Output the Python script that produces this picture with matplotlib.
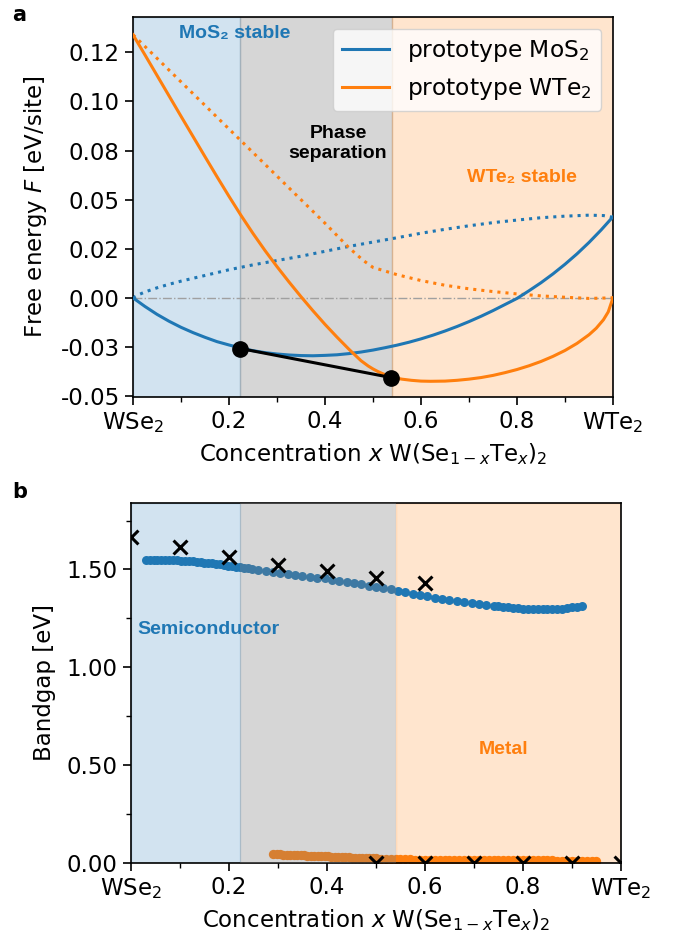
import matplotlib
matplotlib.use("Agg")
import matplotlib.pyplot as plt

BLUE = "#1f77b4"
ORANGE = "#ff7f0e"

# ---- panel a: free energy vs concentration ----
x_mos2 = [0.000, 0.025, 0.050, 0.075, 0.100, 0.125, 0.150, 0.175, 0.200, 0.225,
          0.250, 0.275, 0.300, 0.325, 0.350, 0.375, 0.400, 0.425, 0.450, 0.475,
          0.500, 0.525, 0.550, 0.575, 0.600, 0.625, 0.650, 0.675, 0.700, 0.725,
          0.750, 0.775, 0.800, 0.825, 0.850, 0.875, 0.900, 0.925, 0.950, 0.975,
          1.000]
mos2_ground = [0.0000, -0.0044, -0.0084, -0.0119, -0.0150, -0.0177, -0.0201,
               -0.0223, -0.0240, -0.0256, -0.0269, -0.0279, -0.0286, -0.0291,
               -0.0294, -0.0295, -0.0293, -0.0290, -0.0284, -0.0276, -0.0266,
               -0.0254, -0.0241, -0.0226, -0.0209, -0.0190, -0.0169, -0.0146,
               -0.0121, -0.0094, -0.0065, -0.0034, -0.0003, 0.0036, 0.0077,
               0.0122, 0.0171, 0.0224, 0.0282, 0.0345, 0.0413]

x_mos2_dot = [0.00, 0.01, 0.025, 0.05, 0.075, 0.10, 0.15, 0.20, 0.25, 0.30, 0.35,
              0.40, 0.45, 0.50, 0.55, 0.60, 0.65, 0.70, 0.75, 0.80, 0.85, 0.90,
              0.95, 0.98, 1.00]
mos2_dotted = [0.0000, 0.0014, 0.0030, 0.0051, 0.0069, 0.0085, 0.0114, 0.0143,
               0.0168, 0.0190, 0.0212, 0.0237, 0.0262, 0.0284, 0.0306, 0.0329,
               0.0349, 0.0367, 0.0383, 0.0396, 0.0408, 0.0416, 0.0421, 0.0419,
               0.0410]

x_wte2 = [0.000, 0.025, 0.050, 0.075, 0.100, 0.125, 0.150, 0.175, 0.200, 0.225,
          0.250, 0.275, 0.300, 0.325, 0.350, 0.375, 0.400, 0.425, 0.450, 0.475,
          0.490, 0.500, 0.510, 0.520, 0.530, 0.540, 0.560, 0.580, 0.600, 0.620,
          0.650, 0.675, 0.700, 0.725, 0.750, 0.775, 0.800, 0.825, 0.850, 0.875,
          0.900, 0.925, 0.950, 0.965, 0.980, 0.990, 1.000]
wte2_ground = [0.1340, 0.1237, 0.1133, 0.1029, 0.0925, 0.0822, 0.0719, 0.0617,
               0.0517, 0.0420, 0.0328, 0.0241, 0.0159, 0.0081, 0.0006, -0.0066,
               -0.0135, -0.0200, -0.0262, -0.0320, -0.0347, -0.0362, -0.0375,
               -0.0386, -0.0396, -0.0404, -0.0414, -0.0420, -0.0424, -0.0425,
               -0.0424, -0.0420, -0.0414, -0.0406, -0.0395, -0.0381, -0.0365,
               -0.0346, -0.0324, -0.0298, -0.0268, -0.0232, -0.0188, -0.0155,
               -0.0112, -0.0072, 0.0000]

x_wte2_dot = [0.00, 0.05, 0.10, 0.15, 0.20, 0.25, 0.30, 0.35, 0.40, 0.45,
              0.48, 0.50, 0.55, 0.60, 0.65, 0.70, 0.75, 0.80, 0.85, 0.90,
              0.95, 1.00]
wte2_dotted = [0.134, 0.122, 0.110, 0.098, 0.086, 0.074, 0.062, 0.050, 0.038,
               0.0255, 0.019, 0.0155, 0.0118, 0.0088, 0.0064, 0.0046, 0.0032,
               0.0020, 0.0010, 0.0003, -0.0003, 0.0000]

tie_x = [0.2236, 0.538]
tie_y = [-0.0258, -0.0406]

x_lo, x_hi = 0.222, 0.540

yticks_a = [0.125, 0.100, 0.075, 0.050, 0.025, 0.000, -0.025, -0.050]
ylabels_a = ["0.12", "0.10", "0.08", "0.05", "0.02", "0.00", "-0.03", "-0.05"]
xticks = [0.0, 0.2, 0.4, 0.6, 0.8, 1.0]
xlabels = ["WSe$_2$", "0.2", "0.4", "0.6", "0.8", "WTe$_2$"]
xminor = [0.1, 0.3, 0.5, 0.7, 0.9]

# ---- panel b: bandgap ----
gap_x = [0.030, 0.038, 0.046, 0.054, 0.062, 0.070, 0.078, 0.086, 0.094, 0.102,
         0.110, 0.118, 0.126, 0.134, 0.142, 0.150, 0.158, 0.166, 0.174, 0.182,
         0.190, 0.198, 0.206, 0.214, 0.222, 0.230, 0.238, 0.246,
         0.260, 0.275, 0.290, 0.305, 0.320, 0.335, 0.350, 0.365, 0.380, 0.395,
         0.410, 0.425, 0.440, 0.455, 0.470, 0.485, 0.500, 0.515, 0.530, 0.545,
         0.560, 0.575, 0.590, 0.605, 0.620, 0.635, 0.650, 0.665, 0.680, 0.695,
         0.710, 0.725, 0.740,
         0.750, 0.760, 0.770, 0.780, 0.790, 0.800, 0.810, 0.820, 0.830, 0.840,
         0.850, 0.860, 0.870, 0.880, 0.890, 0.900, 0.910, 0.920]
gap_semi = [1.546, 1.547, 1.547, 1.548, 1.548, 1.548, 1.548, 1.547, 1.546, 1.545,
            1.544, 1.542, 1.541, 1.539, 1.537, 1.535, 1.533, 1.531, 1.528, 1.526,
            1.523, 1.520, 1.517, 1.514, 1.511, 1.509, 1.506, 1.503,
            1.499, 1.494, 1.489, 1.484, 1.479, 1.474, 1.469, 1.464, 1.459, 1.454,
            1.448, 1.442, 1.436, 1.430, 1.424, 1.418, 1.412, 1.406, 1.399, 1.392,
            1.385, 1.377, 1.369, 1.362, 1.355, 1.349, 1.344, 1.339, 1.334, 1.329,
            1.324, 1.319, 1.314,
            1.311, 1.309, 1.307, 1.304, 1.302, 1.300, 1.298, 1.297, 1.296, 1.296,
            1.296, 1.296, 1.297, 1.299, 1.302, 1.306, 1.310, 1.315]

metal_x = [0.290, 0.297, 0.304, 0.311, 0.318, 0.325, 0.332, 0.339, 0.346, 0.353,
           0.360, 0.367, 0.374, 0.381, 0.388, 0.395, 0.402, 0.409, 0.416, 0.423,
           0.430, 0.437, 0.444, 0.451, 0.458, 0.465, 0.472, 0.479, 0.486, 0.493,
           0.500, 0.510, 0.520, 0.530, 0.540, 0.550, 0.560, 0.570, 0.580, 0.590,
           0.600, 0.610, 0.620, 0.630, 0.640, 0.650, 0.660, 0.670, 0.680, 0.690,
           0.700, 0.710, 0.720, 0.730, 0.740, 0.750, 0.760, 0.770, 0.780, 0.790,
           0.800, 0.810, 0.820, 0.830, 0.840, 0.850, 0.860, 0.870, 0.880, 0.890,
           0.900, 0.910, 0.920, 0.930, 0.940, 0.950]
gap_metal = [0.046, 0.045, 0.044, 0.043, 0.043, 0.042, 0.041, 0.040, 0.040, 0.039,
             0.038, 0.037, 0.037, 0.036, 0.035, 0.034, 0.034, 0.033, 0.032, 0.031,
             0.031, 0.030, 0.029, 0.028, 0.028, 0.027, 0.026, 0.025, 0.025, 0.024,
             0.023, 0.022, 0.021, 0.020, 0.020, 0.019, 0.018, 0.018, 0.017, 0.017,
             0.017, 0.016, 0.016, 0.016, 0.016, 0.015, 0.015, 0.015, 0.015, 0.015,
             0.015, 0.014, 0.014, 0.014, 0.014, 0.014, 0.014, 0.014, 0.014, 0.013,
             0.013, 0.013, 0.013, 0.013, 0.013, 0.013, 0.013, 0.012, 0.012, 0.012,
             0.012, 0.012, 0.012, 0.012, 0.012, 0.012]

ref_x = [0.0, 0.1, 0.2, 0.3, 0.4, 0.5, 0.6]
ref_gap = [1.664, 1.614, 1.563, 1.523, 1.494, 1.455, 1.433]
ref_metal_x = [0.5, 0.6, 0.7, 0.8, 0.9, 1.0]
ref_metal = [0.0, 0.0, 0.0, 0.0, 0.0, 0.0]

label_font = ["Liberation Sans", "DejaVu Sans"]
FS = 16.5

fig = plt.figure(figsize=(6.83, 9.41), dpi=100)
ax1 = fig.add_axes([0.1947, 0.5781, 0.7028, 0.4038])
ax2 = fig.add_axes([0.1918, 0.0829, 0.7174, 0.3826])

# panel a
ax1.axvspan(0, x_lo, color=BLUE, alpha=0.2, zorder=0)
ax1.axvspan(x_lo, x_hi, color="grey", alpha=0.32, zorder=0)
ax1.axvspan(x_hi, 1, color=ORANGE, alpha=0.2, zorder=0)
ax1.axhline(0, color="#a0a0a0", ls="-.", lw=1, zorder=1)
ax1.plot(x_mos2, mos2_ground, color=BLUE, lw=2.2, label="prototype MoS$_2$", zorder=3)
ax1.plot(x_wte2, wte2_ground, color=ORANGE, lw=2.2, label="prototype WTe$_2$", zorder=3)
ax1.plot(x_mos2_dot, mos2_dotted, color=BLUE, lw=2.2, ls=":", zorder=2)
ax1.plot(x_wte2_dot, wte2_dotted, color=ORANGE, lw=2.2, ls=":", zorder=2)
ax1.plot(tie_x, tie_y, color="black", lw=2.2, marker="o", ms=11, zorder=4)
ax1.set_xlim(0, 1)
ax1.set_ylim(-0.0505, 0.143)
ax1.set_yticks(yticks_a)
ax1.set_yticklabels(ylabels_a)
ax1.set_ylabel("Free energy $F$ [eV/site]", fontsize=FS, labelpad=8)
ax1.legend(loc="upper right", fontsize=16.8)
ax1.text(0.2125, 0.1347, "MoS₂ stable", color=BLUE, fontsize=14, fontweight="bold",
         family=label_font, ha="center", va="center")
ax1.text(0.427, 0.0786, "Phase\nseparation", color="black", fontsize=14,
         fontweight="bold", family=label_font, ha="center", va="center")
ax1.text(0.81, 0.0612, "WTe₂ stable", color=ORANGE, fontsize=14, fontweight="bold",
         family=label_font, ha="center", va="center")

# panel b
ax2.axvspan(0, x_lo, color=BLUE, alpha=0.2, zorder=0)
ax2.axvspan(x_hi, 1, color=ORANGE, alpha=0.2, zorder=0)
ax2.scatter(gap_x, gap_semi, s=42, color=BLUE, zorder=2, linewidths=0)
ax2.scatter(metal_x, gap_metal, s=45, color=ORANGE, zorder=2, linewidths=0)
ax2.axvspan(x_lo, x_hi, color="grey", alpha=0.32, zorder=3, lw=0)
ax2.scatter(ref_x, ref_gap, marker="x", s=100, color="black", linewidths=2.2, zorder=4)
ax2.scatter(ref_metal_x, ref_metal, marker="x", s=100, color="black", linewidths=2.2,
            zorder=4)
ax2.set_xlim(0, 1)
ax2.set_ylim(0, 1.84)
ax2.set_yticks([0.0, 0.5, 1.0, 1.5])
ax2.set_yticklabels(["0.00", "0.50", "1.00", "1.50"])
ax2.set_yticks([0.25, 0.75, 1.25, 1.75], minor=True)
ax2.set_ylabel("Bandgap [eV]", fontsize=FS, labelpad=8)
ax2.text(0.012, 1.191, "Semiconductor", color=BLUE, fontsize=14, fontweight="bold",
         family=label_font, ha="left", va="center")
ax2.text(0.761, 0.578, "Metal", color=ORANGE, fontsize=14, fontweight="bold",
         family=label_font, ha="center", va="center")

for ax in (ax1, ax2):
    ax.set_xticks(xticks)
    ax.set_xticklabels(xlabels)
    ax.set_xticks(xminor, minor=True)
    ax.set_xlabel("Concentration $x$ W(Se$_{1-x}$Te$_x$)$_2$", fontsize=FS)
    ax.tick_params(which="major", length=6, width=1.2, labelsize=FS)
    ax.tick_params(which="minor", length=3.5, width=1.0)
    for sp in ax.spines.values():
        sp.set_linewidth(1.2)

fig.text(0.018, 0.984, "a", fontsize=15, fontweight="bold", va="center")
fig.text(0.018, 0.477, "b", fontsize=15, fontweight="bold", va="center")

fig.savefig("out.png", dpi=100)
